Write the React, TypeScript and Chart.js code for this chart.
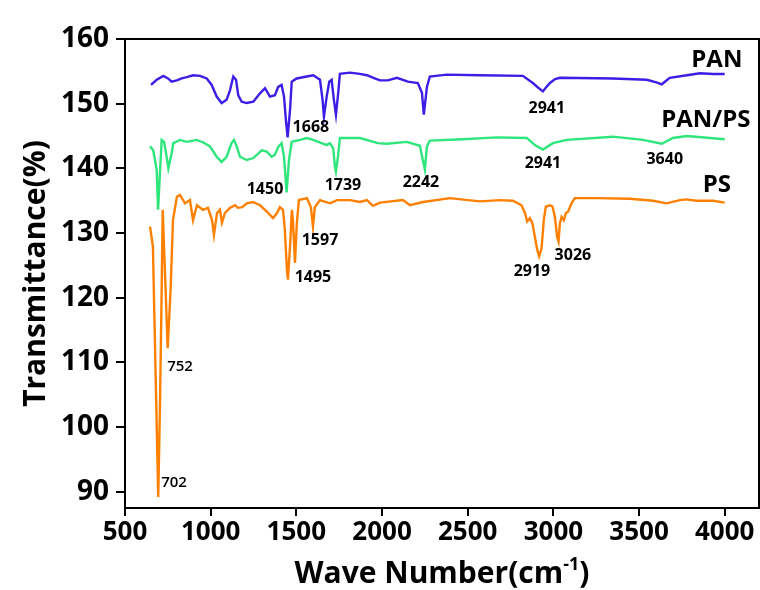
import React, { useEffect, useRef } from "react";
import { Chart, registerables } from "chart.js";
Chart.register(...registerables);

const FONT = '"Open Sans", "Noto Sans", sans-serif';

// PAN spectrum: [wave number (cm-1), transmittance (%)]
const panSpectrum: number[][] = [
  [652, 152.9], [685, 153.7], [724, 154.3], [751, 153.9], [772, 153.4], [802, 153.6], [831, 153.9], [860, 154.1],
  [898, 154.4], [938, 154.3], [977, 153.9], [1006, 152.9], [1035, 151.1], [1064, 150.1], [1093, 150.6], [1113, 152.1],
  [1132, 154.2], [1148, 153.7], [1161, 151.3], [1181, 150.3], [1210, 150.1], [1249, 150.3], [1288, 151.6], [1317, 152.4],
  [1346, 151.1], [1375, 151.3], [1394, 152.6], [1414, 152.9], [1428, 151.1], [1439, 147.5], [1449, 144.8], [1463, 149.0],
  [1473, 153.4], [1502, 153.9], [1560, 154.2], [1599, 154.4], [1638, 153.7], [1653, 150.6], [1661, 148.0], [1677, 151.1],
  [1692, 153.4], [1706, 153.7], [1719, 150.6], [1731, 148.3], [1744, 151.6], [1754, 154.6], [1813, 154.8], [1870, 154.6],
  [1912, 154.4], [1950, 154.0], [1988, 153.6], [2034, 153.6], [2087, 154.0], [2151, 153.4], [2209, 153.2], [2233, 151.7],
  [2244, 148.3], [2262, 152.6], [2279, 154.2], [2378, 154.5], [2571, 154.4], [2822, 154.3], [2880, 153.2], [2910, 152.5],
  [2939, 151.9], [2960, 152.6], [2980, 153.2], [3010, 153.8], [3038, 154.0], [3347, 153.9], [3545, 153.7], [3601, 153.3],
  [3633, 153.0], [3656, 153.5], [3679, 154.0], [3779, 154.4], [3855, 154.7], [3932, 154.6], [4000, 154.6],
];

// PAN/PS spectrum
const blendSpectrum: number[][] = [
  [646, 143.4], [665, 142.8], [685, 139.8], [693, 133.6], [714, 144.4], [728, 144.1], [743, 141.8], [753, 140.0],
  [772, 142.3], [782, 143.9], [821, 144.4], [860, 144.1], [918, 144.4], [957, 144.0], [996, 143.4], [1035, 141.8],
  [1064, 141.0], [1093, 141.8], [1122, 143.9], [1136, 144.4], [1152, 143.4], [1171, 141.8], [1210, 141.3], [1249, 141.6],
  [1298, 142.8], [1327, 142.6], [1356, 141.8], [1375, 142.1], [1394, 143.3], [1414, 143.9], [1428, 141.8], [1443, 136.3],
  [1457, 141.3], [1473, 144.1], [1521, 144.4], [1560, 144.7], [1599, 144.4], [1647, 143.9], [1677, 143.6], [1696, 143.9],
  [1715, 143.1], [1725, 140.3], [1731, 139.5], [1743, 141.8], [1754, 144.7], [1871, 144.7], [1976, 143.9], [2028, 143.8],
  [2145, 144.1], [2221, 143.5], [2238, 141.3], [2250, 139.8], [2262, 143.4], [2279, 144.3], [2472, 144.5], [2670, 144.8],
  [2845, 144.7], [2892, 143.6], [2939, 142.9], [2997, 143.9], [3079, 144.4], [3347, 144.9], [3522, 144.4], [3633, 143.8],
  [3697, 144.7], [3779, 145.0], [4000, 144.5],
];

// PS spectrum
const psSpectrum: number[][] = [
  [646, 131.0], [663, 127.9], [671, 117.7], [679, 107.8], [694, 89.2], [704, 103.2], [714, 121.2], [720, 133.6],
  [737, 121.2], [749, 112.2], [766, 121.2], [780, 132.0], [803, 135.6], [821, 135.9], [850, 134.6], [879, 135.1],
  [897, 132.0], [920, 134.3], [955, 133.6], [984, 133.9], [1008, 132.0], [1019, 129.7], [1037, 133.1], [1054, 133.6],
  [1066, 131.6], [1083, 133.1], [1113, 133.9], [1142, 134.3], [1159, 133.9], [1183, 134.0], [1212, 134.6], [1247, 134.8],
  [1288, 134.3], [1328, 133.3], [1364, 132.3], [1387, 133.1], [1404, 134.0], [1422, 133.6], [1433, 130.5], [1445, 124.3],
  [1451, 122.8], [1463, 127.9], [1474, 133.6], [1480, 132.0], [1492, 125.4], [1503, 131.6], [1515, 135.1], [1562, 135.4],
  [1585, 134.0], [1597, 131.0], [1608, 134.0], [1638, 135.1], [1696, 134.6], [1737, 135.1], [1813, 135.1], [1871, 134.8],
  [1912, 135.1], [1947, 134.2], [1988, 134.7], [2122, 135.1], [2163, 134.3], [2239, 134.8], [2396, 135.4], [2571, 134.9],
  [2688, 135.1], [2764, 135.0], [2814, 134.3], [2834, 133.1], [2847, 131.8], [2863, 132.3], [2878, 131.5], [2892, 129.4],
  [2906, 127.4], [2917, 126.4], [2931, 127.6], [2944, 132.0], [2956, 134.1], [2980, 134.3], [2995, 134.1], [3009, 132.5],
  [3022, 129.4], [3030, 128.7], [3038, 131.5], [3048, 132.5], [3061, 132.0], [3073, 133.1], [3086, 133.3], [3106, 134.6],
  [3125, 135.4], [3252, 135.4], [3446, 135.3], [3582, 135.0], [3660, 134.6], [3738, 135.1], [3777, 135.2], [3835, 135.0],
  [3932, 135.0], [4000, 134.7],
];

// Axis ticks
const xTicks = [500, 1000, 1500, 2000, 2500, 3000, 3500, 4000];
const yTicks = [90, 100, 110, 120, 130, 140, 150, 160];

// Peak annotations: label text, anchored at (wave number, transmittance)
const peakText = ["1668", "1450", "1739", "1597", "1495", "752", "702", "2242", "2941", "2941", "3640", "2919", "3026"];
const peakWave = [1585, 1317, 1772, 1638, 1597, 821, 786, 2227, 2962, 2939, 3650, 2875, 3114];
const peakT = [146.4, 136.7, 137.3, 128.9, 123.2, 109.3, 91.4, 137.9, 149.3, 140.7, 141.4, 124.0, 126.6];

// Series names, anchored at (wave number, transmittance)
const seriesNames = ["PAN", "PAN/PS", "PS"];
const nameWave = [3954, 3890, 3954];
const nameT = [156.8, 147.5, 137.4];

const toPoints = (pairs: number[][]) => pairs.map(([x, y]) => ({ x, y }));

const textPlugin = {
  id: "textPlugin",
  afterDraw(chart: any) {
    const { ctx, chartArea, scales } = chart;
    const xs = scales.x, ys = scales.y;
    ctx.save();
    ctx.strokeStyle = "#000";
    ctx.lineWidth = 2;
    ctx.strokeRect(chartArea.left, chartArea.top, chartArea.right - chartArea.left, chartArea.bottom - chartArea.top);
    ctx.fillStyle = "#000";
    ctx.textBaseline = "middle";
    ctx.textAlign = "center";
    peakText.forEach((t, i) => {
      const small = t.length === 3;
      ctx.font = `${small ? 600 : "bold"} ${small ? 15 : 16}px ${FONT}`;
      ctx.fillText(t, xs.getPixelForValue(peakWave[i]), ys.getPixelForValue(peakT[i]));
    });
    ctx.font = `bold 24px ${FONT}`;
    seriesNames.forEach((t, i) => {
      ctx.fillText(t, xs.getPixelForValue(nameWave[i]), ys.getPixelForValue(nameT[i]));
    });
    ctx.save();
    ctx.translate(36, (chartArea.top + chartArea.bottom) / 2);
    ctx.rotate(-Math.PI / 2);
    ctx.font = `bold 30px ${FONT}`;
    ctx.fillText("Transmittance(%)", 0, 0);
    ctx.restore();
    const main = "Wave Number(cm";
    const sup = "-1";
    const close = ")";
    const fMain = `bold 30px ${FONT}`;
    const fSup = `bold 18px ${FONT}`;
    ctx.font = fMain;
    const w1 = ctx.measureText(main).width;
    const w3 = ctx.measureText(close).width;
    ctx.font = fSup;
    const w2 = ctx.measureText(sup).width;
    const total = w1 + w2 + w3;
    const x0 = (chartArea.left + chartArea.right) / 2 - total / 2;
    const base = 583;
    ctx.textAlign = "left";
    ctx.textBaseline = "alphabetic";
    ctx.font = fMain;
    ctx.fillText(main, x0, base);
    ctx.font = fSup;
    ctx.fillText(sup, x0 + w1, base - 13);
    ctx.font = fMain;
    ctx.fillText(close, x0 + w1 + w2, base);
    ctx.restore();
  },
};

export default function App() {
  const ref = useRef<HTMLCanvasElement>(null);
  useEffect(() => {
    document.body.style.margin = "0";
    const line = (pairs: number[][], color: string) => ({
      data: toPoints(pairs),
      borderColor: color,
      borderWidth: 2.4,
      pointRadius: 0,
      tension: 0,
      fill: false,
    });
    const chart = new Chart(ref.current as HTMLCanvasElement, {
      type: "line",
      data: {
        datasets: [
          line(panSpectrum, "#3b1fe6"),
          line(blendSpectrum, "#2ee67c"),
          line(psSpectrum, "#ff8000"),
        ] as any,
      },
      options: {
        animation: false,
        responsive: false,
        layout: { padding: { top: 39, right: 1, left: 0, bottom: 0 } },
        plugins: { legend: { display: false }, tooltip: { enabled: false } },
        scales: {
          x: {
            type: "linear",
            min: 500,
            max: 4200,
            afterFit: (s: any) => { s.height = 82; },
            afterBuildTicks: (s: any) => { s.ticks = xTicks.map((v) => ({ value: v })); },
            ticks: { font: { family: FONT, size: 26, weight: "bold" }, color: "#000", padding: 1, maxRotation: 0, autoSkip: false, callback: (v: any) => String(v) },
            grid: { drawOnChartArea: false, tickLength: 8, color: "#000", lineWidth: 2 },
            border: { color: "#000", width: 2 },
          },
          y: {
            min: 87.5,
            max: 160,
            afterFit: (s: any) => { s.width = 125; },
            afterBuildTicks: (s: any) => { s.ticks = yTicks.map((v) => ({ value: v })); },
            ticks: { font: { family: FONT, size: 28, weight: "bold" }, color: "#000", padding: 7, autoSkip: false, callback: (v: any) => String(v) },
            grid: { drawOnChartArea: false, tickLength: 9, color: "#000", lineWidth: 2 },
            border: { color: "#000", width: 2 },
          },
        },
      } as any,
      plugins: [textPlugin],
    });
    return () => chart.destroy();
  }, []);
  return (
    <div style={{ position: "absolute", left: 0, top: 0, width: 760, height: 590, background: "#fff" }}>
      <canvas ref={ref} width={760} height={590} style={{ display: "block" }} />
    </div>
  );
}
